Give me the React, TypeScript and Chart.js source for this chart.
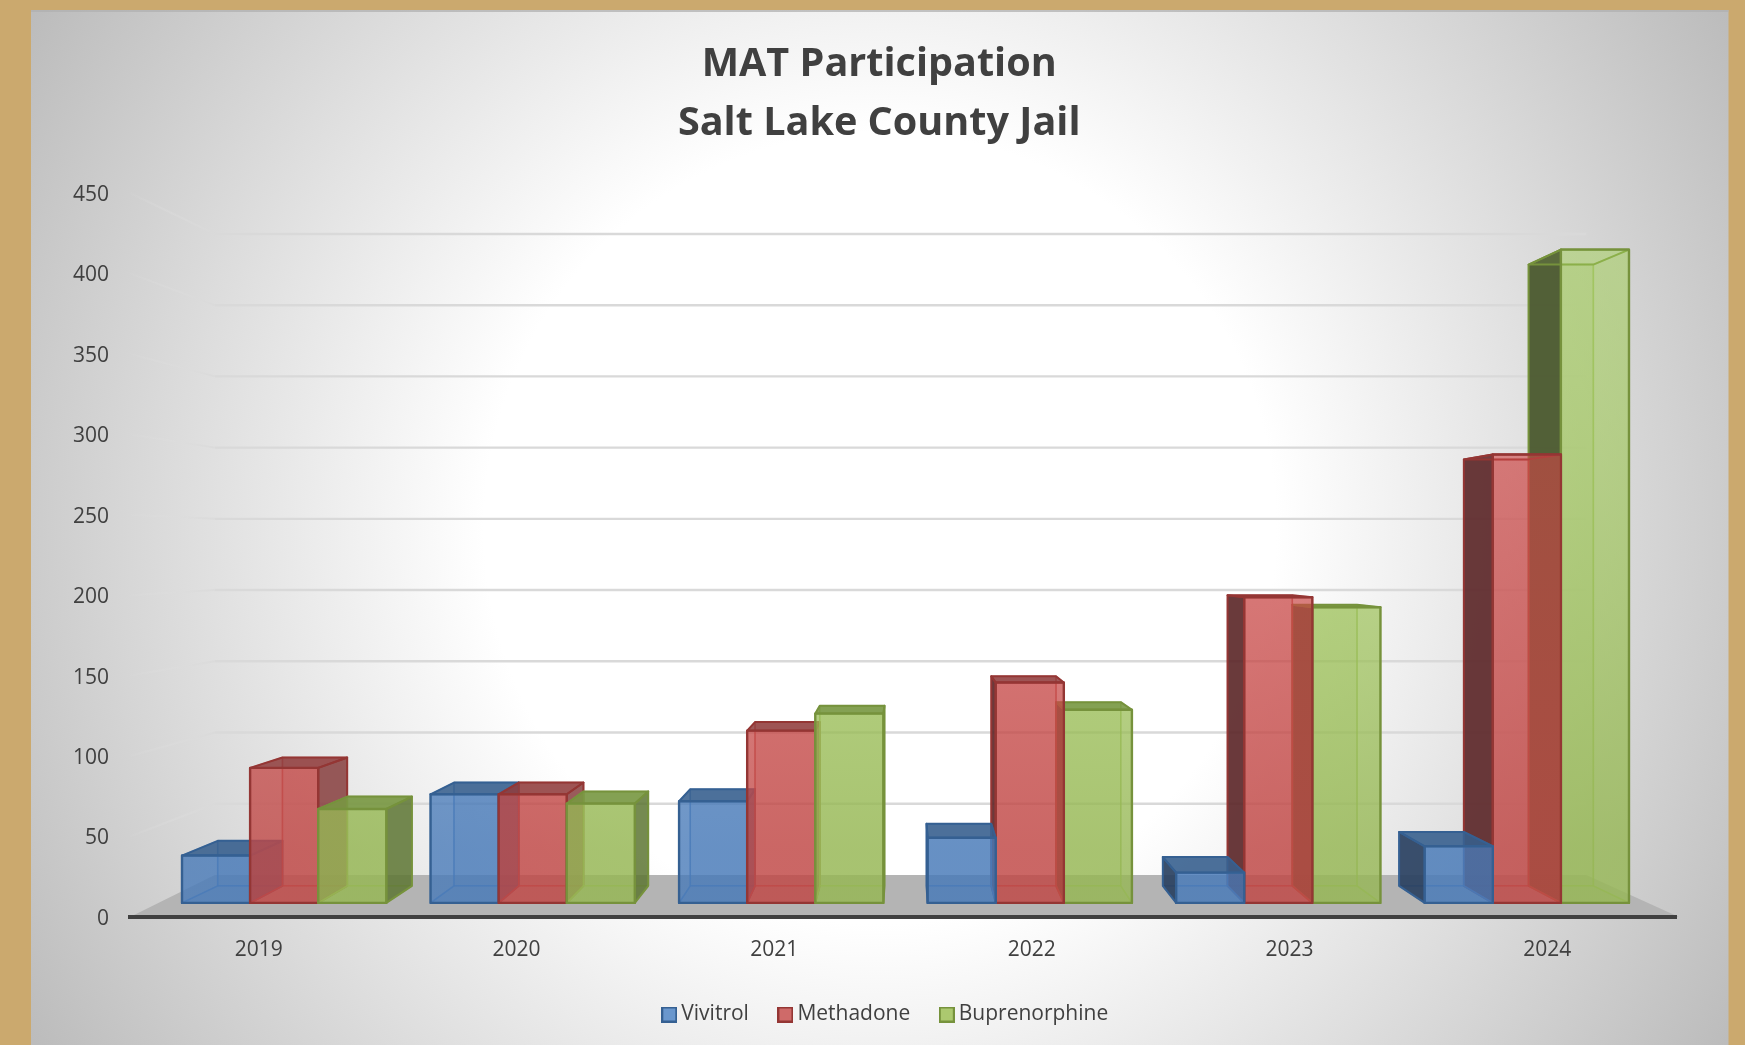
import React, { useEffect, useRef } from "react";
import { Chart, registerables } from "chart.js";

Chart.register(...registerables);

const categories = ["2019", "2020", "2021", "2022", "2023", "2024"];
const vivitrol = [30.5, 70, 65.5, 42, 19.5, 36.5];
const methadone = [87, 70, 111, 142, 197, 289];
const buprenorphine = [60.5, 64, 122, 124.5, 190.5, 421];
const seriesNames = ["Vivitrol", "Methadone", "Buprenorphine"];

const palette = [
  { rgb: "72,122,184", high: "72,122,184", swatch: "#6A97CD", line: "#356092", sideFar: "rgba(40,62,92,0.88)", sideNear: "rgba(45,78,120,0.72)", top: "rgba(54,94,140,0.85)" },
  { rgb: "192,72,70", high: "215,70,70", swatch: "#CF6A69", line: "#943634", sideFar: "rgba(88,38,40,0.88)", sideNear: "rgba(122,50,50,0.72)", top: "rgba(140,58,58,0.82)" },
  { rgb: "150,183,84", high: "165,210,90", swatch: "#ACC96F", line: "#76923C", sideFar: "rgba(72,86,44,0.92)", sideNear: "rgba(90,114,50,0.8)", top: "rgba(120,150,66,0.88)" },
];

const VX = 870, VY = 550.5, WALL_T = 0.1146;
const wallX = (x: number) => x + (VX - x) * WALL_T;
const wallY = (y: number) => y + (VY - y) * WALL_T;
const frontX = (x: number) => x * 0.96456 + 34.5;
const frontY = (y: number) => y * 0.9646 + 18.45;
const backX = (x: number) => x * 0.9507 + 44.66;
const backY = (y: number) => y * 0.951 + 27.2;

function poly(ctx: CanvasRenderingContext2D, pts: number[][], fill: any, stroke: string | null, lw = 2) {
  ctx.beginPath();
  pts.forEach((p, i) => (i ? ctx.lineTo(p[0], p[1]) : ctx.moveTo(p[0], p[1])));
  ctx.closePath();
  if (fill) { ctx.fillStyle = fill; ctx.fill(); }
  if (stroke) { ctx.strokeStyle = stroke; ctx.lineWidth = lw; ctx.lineJoin = "round"; ctx.stroke(); }
}

function swatchCanvas(fill: string, line: string) {
  const c = document.createElement("canvas");
  c.width = 16;
  c.height = 16;
  const x = c.getContext("2d")!;
  x.fillStyle = fill;
  x.fillRect(1, 1, 14, 14);
  x.strokeStyle = line;
  x.lineWidth = 2;
  x.strokeRect(1, 1, 14, 14);
  return c;
}

const backdrop = {
  id: "backdrop",
  beforeDraw(chart: any) {
    const { ctx, width, height, chartArea: a, scales } = chart;
    ctx.save();
    ctx.fillStyle = "#CBA96E";
    ctx.fillRect(0, 0, width, height);
    const g = ctx.createRadialGradient(880, 528, 0, 880, 528, 990);
    g.addColorStop(0, "#FFFFFF");
    g.addColorStop(0.4, "#FFFFFF");
    g.addColorStop(1, "#BCBCBC");
    ctx.fillStyle = g;
    ctx.fillRect(31, 10, 1697.5, height - 10);
    ctx.fillStyle = "rgba(176,176,176,0.75)";
    ctx.fillRect(31, 10, 1697.5, 2);

    // floor of the 3D box
    poly(ctx, [[a.left, a.bottom], [a.right + 3, a.bottom], [wallX(a.right + 3), wallY(a.bottom)], [wallX(a.left), wallY(a.bottom)]], "#B4B4B4", null);

    // gridlines on the side wall and back wall
    const y = scales.y;
    y.ticks.forEach((t: any) => {
      if (t.value === 0) return;
      const py = y.getPixelForValue(t.value);
      const sg = ctx.createLinearGradient(a.left, 0, wallX(a.left), 0);
      sg.addColorStop(0, "rgba(225,225,225,0.05)");
      sg.addColorStop(1, "rgba(217,217,217,0.75)");
      ctx.strokeStyle = sg;
      ctx.lineWidth = 2;
      ctx.beginPath();
      ctx.moveTo(a.left, py);
      ctx.lineTo(wallX(a.left), wallY(py));
      ctx.stroke();
      ctx.strokeStyle = "#D9D9D9";
      ctx.lineWidth = 2.4;
      ctx.beginPath();
      ctx.moveTo(wallX(a.left), wallY(py));
      ctx.lineTo(wallX(a.right + 3), wallY(py));
      ctx.stroke();
    });
    ctx.restore();
  },
};

function drawBar(ctx: CanvasRenderingContext2D, el: any, ds: number) {
  const c = palette[ds];
  const half = el.width / 2;
  const fl = frontX(el.x - half), fr = frontX(el.x + half);
  const ft = frontY(el.y), fb = frontY(el.base);
  const bl = backX(fl), br = backX(fr), bt = backY(ft), bb = backY(fb);
  const left = [[fl, ft], [bl, bt], [bl, bb], [fl, fb]];
  const right = [[fr, ft], [br, bt], [br, bb], [fr, fb]];
  const top = [[fl, ft], [fr, ft], [br, bt], [bl, bt]];
  const floor = [[fl, fb], [fr, fb], [br, bb], [bl, bb]];
  const faint = `rgba(${c.rgb},0.3)`;
  const inner = `rgba(${c.rgb},0.55)`;
  poly(ctx, [[bl, bt], [br, bt], [br, bb], [bl, bb]], faint, inner, 1.5);
  poly(ctx, floor, faint, inner, 1.5);
  const mid = (fl + fr) / 2;
  if (mid < VX) {
    poly(ctx, left, `rgba(${c.rgb},0.16)`, inner, 1.5);
    poly(ctx, right, c.sideNear, c.line, 2);
  } else {
    poly(ctx, right, `rgba(${c.rgb},0.16)`, inner, 1.5);
    poly(ctx, left, c.sideFar, c.line, 2);
  }
  // above the eye line the top is seen from below, through the front
  poly(ctx, top, bt > ft ? `rgba(${c.rgb},0.12)` : c.top, c.line, 2);
  // the front lightens the higher it climbs
  const fg = ctx.createLinearGradient(0, 250, 0, 850);
  fg.addColorStop(0, `rgba(${c.high},0.46)`);
  fg.addColorStop(1, `rgba(${c.rgb},0.76)`);
  poly(ctx, [[fl, ft], [fr, ft], [fr, fb], [fl, fb]], fg, c.line, 2.4);
}

const bars3d = {
  id: "bars3d",
  beforeDatasetsDraw(chart: any) {
    const { ctx } = chart;
    ctx.save();
    categories.forEach((_, i) => {
      const metas = [0, 1, 2].map((d) => chart.getDatasetMeta(d).data[i]);
      const order = frontX(metas[1].x) < VX ? [0, 1, 2] : [2, 1, 0];
      order.forEach((d) => drawBar(ctx, metas[d], d));
    });
    ctx.restore();
    return false;
  },
  afterLayout(chart: any) {
    // centre the title and the legend on their own positions in the panel
    chart.titleBlock.left = 82.4;
    chart.legend.left = 100;
  },
};

export default function App() {
  const ref = useRef<HTMLCanvasElement>(null);
  useEffect(() => {
    const values = [vivitrol, methadone, buprenorphine];
    const chart = new Chart(ref.current!, {
      type: "bar",
      data: {
        labels: categories,
        datasets: seriesNames.map((name, i) => ({
          label: name,
          data: values[i],
          backgroundColor: palette[i].swatch,
          borderColor: palette[i].line,
          borderWidth: 2,
          categoryPercentage: 0.822,
          barPercentage: 1,
        })),
      },
      options: {
        responsive: false,
        animation: false,
        layout: { padding: { left: 0, right: 69, top: 0, bottom: 10 } },
        plugins: {
          title: {
            display: true,
            text: ["MAT Participation", "Salt Lake County Jail"],
            color: "#404040",
            font: { family: "'Open Sans'", size: 39.6, weight: "bold", lineHeight: 59 / 39.6 },
            padding: { top: 35, bottom: 40 },
          },
          legend: {
            position: "bottom",
            labels: {
              color: "#404040",
              font: { family: "'Open Sans'", size: 21 },
              usePointStyle: true,
              pointStyleWidth: 3,
              boxHeight: 15,
              padding: 35,
              generateLabels(chart: any) {
                const items = Chart.defaults.plugins.legend.labels.generateLabels(chart);
                return items.map((it: any, i: number) => ({ ...it, pointStyle: swatchCanvas(palette[i].swatch, palette[i].line) }));
              },
            },
          },
          tooltip: { enabled: false },
        },
        scales: {
          x: {
            grid: { display: false, drawTicks: false },
            border: { display: true, color: "#404040", width: 4 },
            ticks: { color: "#404040", font: { family: "'Open Sans'", size: 21 }, padding: 21, maxRotation: 0 },
            afterFit(s: any) { s.height = 52.1; },
          },
          y: {
            min: 0,
            max: 450,
            grid: { display: false, drawTicks: false },
            border: { display: false },
            ticks: { stepSize: 50, color: "#404040", font: { family: "'Open Sans'", size: 21 }, padding: 21, labelOffset: 2 },
            afterFit(s: any) { s.width = 130; },
          },
        },
      },
      plugins: [backdrop, bars3d],
    } as any);
    return () => chart.destroy();
  }, []);
  return (
    <div style={{ position: "absolute", left: 0, top: 0, width: 1745, height: 1045 }}>
      <canvas ref={ref} width={1745} height={1045} style={{ display: "block" }} />
    </div>
  );
}
